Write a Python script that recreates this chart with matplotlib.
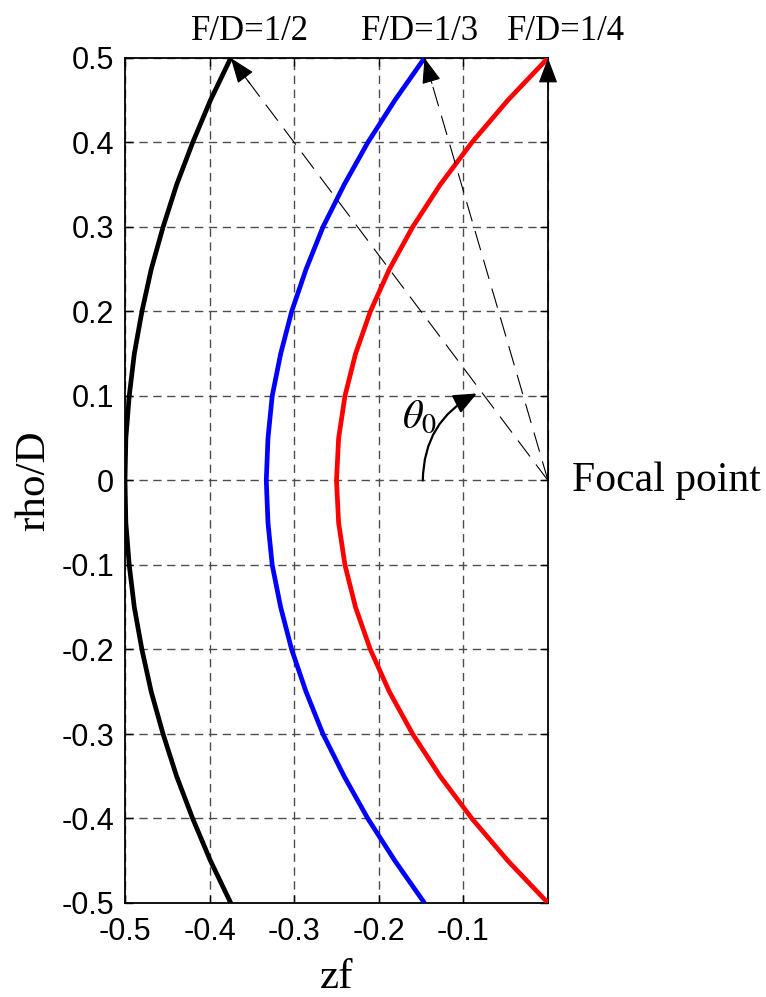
import matplotlib
matplotlib.use("Agg")
import matplotlib.pyplot as plt
from matplotlib.patches import FancyArrowPatch

# ---- data ----
rho = [-0.50, -0.45, -0.40, -0.35, -0.30, -0.25, -0.20, -0.15, -0.10, -0.05, 0.00,
       0.05, 0.10, 0.15, 0.20, 0.25, 0.30, 0.35, 0.40, 0.45, 0.50]
z_half = [-0.375, -0.399, -0.420, -0.439, -0.455, -0.469, -0.480, -0.489, -0.495, -0.499, -0.500,
          -0.499, -0.495, -0.489, -0.480, -0.469, -0.455, -0.439, -0.420, -0.399, -0.375]
z_third = [-0.146, -0.181, -0.213, -0.241, -0.266, -0.286, -0.303, -0.316, -0.326, -0.331, -0.333,
           -0.331, -0.326, -0.316, -0.303, -0.286, -0.266, -0.241, -0.213, -0.181, -0.146]
z_quarter = [0.000, -0.0475, -0.090, -0.1275, -0.160, -0.1875, -0.210, -0.2275, -0.240, -0.2475, -0.250,
             -0.2475, -0.240, -0.2275, -0.210, -0.1875, -0.160, -0.1275, -0.090, -0.0475, 0.000]
series_labels = ["F/D=1/2", "F/D=1/3", "F/D=1/4"]
series_colors = ["black", "blue", "red"]
xticks = [-0.5, -0.4, -0.3, -0.2, -0.1]
xtick_labels = ["-0.5", "-0.4", "-0.3", "-0.2", "-0.1"]
yticks = [-0.5, -0.4, -0.3, -0.2, -0.1, 0.0, 0.1, 0.2, 0.3, 0.4, 0.5]
ytick_labels = ["-0.5", "-0.4", "-0.3", "-0.2", "-0.1", "0", "0.1", "0.2", "0.3", "0.4", "0.5"]
focal = (0.0, 0.0)

SANS = ["Liberation Sans", "DejaVu Sans"]
SERIF = ["Liberation Serif", "DejaVu Serif"]
plt.rcParams["mathtext.fontset"] = "stix"

fig = plt.figure(figsize=(7.66, 9.97), dpi=100)
ax = fig.add_axes([125/766, 1-903/997, 423/766, 845/997])

curves = [z_half, z_third, z_quarter]
for z, c in zip(curves, series_colors):
    ax.plot(z, rho, color=c, lw=3.4, solid_capstyle="butt", zorder=3)

ax.set_xlim(-0.5, 0.0)
ax.set_ylim(-0.5, 0.5)
ax.set_xticks(xticks)
ax.set_xticklabels(xtick_labels, fontfamily=SANS, fontsize=22)
ax.set_yticks(yticks)
ax.set_yticklabels(ytick_labels, fontfamily=SANS, fontsize=22)
ax.tick_params(axis="x", pad=10)
ax.tick_params(axis="y", pad=8)
ax.tick_params(direction="in", length=6, width=1, top=True, right=True)
ax.grid(True, color="0.3", linestyle=(0, (6, 4)), lw=1.0)
for s in ax.spines.values():
    s.set_linewidth(1.3)

ax.set_xlabel("zf", fontfamily=SERIF, fontsize=31, labelpad=8)
ax.set_ylabel("rho/D", fontfamily=SERIF, fontsize=31, labelpad=6)

# dashed rays from focal point to the rim of each reflector
for z in curves:
    tip = (z[-1], rho[-1])
    ax.plot([focal[0], tip[0]], [focal[1], tip[1]], color="k", lw=0.8,
            linestyle=(0, (18, 9)), zorder=4, clip_on=False)
    back = (tip[0] - 0.06 * (tip[0] - focal[0]), tip[1] - 0.06 * (tip[1] - focal[1]))
    ax.annotate("", xy=tip, xytext=back,
                arrowprops=dict(arrowstyle="-|>,head_length=0.8,head_width=0.3",
                                color="k", lw=0.8, shrinkA=0, shrinkB=0, mutation_scale=20),
                annotation_clip=False, zorder=5)

# labels above the rims
label_x_px = [250, 420, 566]
for lab, xp in zip(series_labels, label_x_px):
    fig.text(xp/766, 1-31/997, lab, ha="center", va="center", fontfamily=SERIF, fontsize=25)

# theta_0 curved arrow
arr = FancyArrowPatch((-0.148, 0.0), (-0.084, 0.103), connectionstyle="arc3,rad=-0.3",
                      arrowstyle="-|>,head_length=0.7,head_width=0.3", mutation_scale=20,
                      color="k", lw=1.6, shrinkA=0, shrinkB=0, zorder=5)
ax.add_patch(arr)
ax.text(-0.152, 0.076, r"$\theta_0$", ha="center", va="center", fontsize=29, zorder=5)

ax.text(0.028, 0.0, "Focal point", ha="left", va="center", fontfamily=SERIF,
        fontsize=30, clip_on=False)

fig.savefig("out.png", dpi=100)
